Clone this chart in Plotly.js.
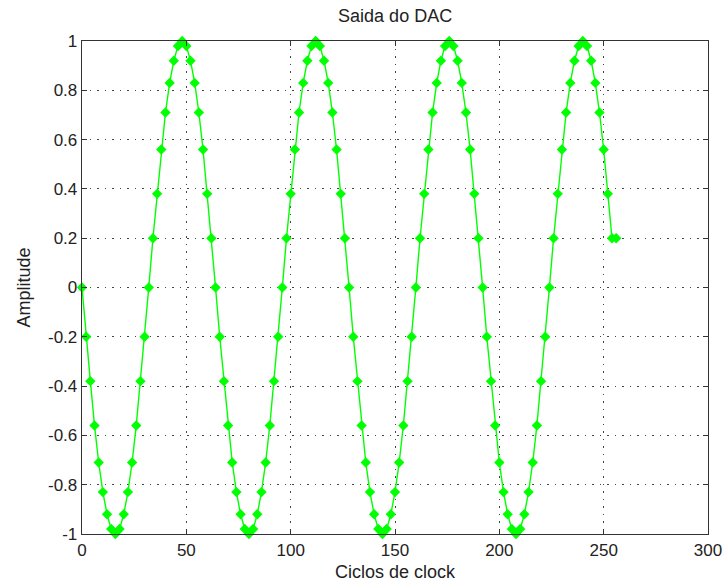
<!DOCTYPE html>
<html>
<head>
<meta charset="utf-8">
<script src="https://cdn.plot.ly/plotly-3.0.1.min.js"></script>
<style>html,body{margin:0;padding:0;background:#fff;}#chart{width:725px;height:585px;}</style>
</head>
<body>
<div id="chart"></div>
<script>
// Clock cycles (x) and DAC output amplitude (y)
var clockCycles = [
  0, 2, 4, 6, 8, 10, 12, 14, 16, 18, 20, 22, 24, 26, 28, 30,
  32, 34, 36, 38, 40, 42, 44, 46, 48, 50, 52, 54, 56, 58, 60, 62,
  64, 66, 68, 70, 72, 74, 76, 78, 80, 82, 84, 86, 88, 90, 92, 94,
  96, 98, 100, 102, 104, 106, 108, 110, 112, 114, 116, 118, 120, 122, 124, 126,
  128, 130, 132, 134, 136, 138, 140, 142, 144, 146, 148, 150, 152, 154, 156, 158,
  160, 162, 164, 166, 168, 170, 172, 174, 176, 178, 180, 182, 184, 186, 188, 190,
  192, 194, 196, 198, 200, 202, 204, 206, 208, 210, 212, 214, 216, 218, 220, 222,
  224, 226, 228, 230, 232, 234, 236, 238, 240, 242, 244, 246, 248, 250, 252, 254,
  256
];
var amplitude = [
  0, -0.2, -0.38, -0.56, -0.71, -0.83, -0.92, -0.98, -1, -0.98, -0.92, -0.83, -0.71, -0.56, -0.38, -0.2,
  0, 0.2, 0.38, 0.56, 0.71, 0.83, 0.92, 0.98, 1, 0.98, 0.92, 0.83, 0.71, 0.56, 0.38, 0.2,
  0, -0.2, -0.38, -0.56, -0.71, -0.83, -0.92, -0.98, -1, -0.98, -0.92, -0.83, -0.71, -0.56, -0.38, -0.2,
  0, 0.2, 0.38, 0.56, 0.71, 0.83, 0.92, 0.98, 1, 0.98, 0.92, 0.83, 0.71, 0.56, 0.38, 0.2,
  0, -0.2, -0.38, -0.56, -0.71, -0.83, -0.92, -0.98, -1, -0.98, -0.92, -0.83, -0.71, -0.56, -0.38, -0.2,
  0, 0.2, 0.38, 0.56, 0.71, 0.83, 0.92, 0.98, 1, 0.98, 0.92, 0.83, 0.71, 0.56, 0.38, 0.2,
  0, -0.2, -0.38, -0.56, -0.71, -0.83, -0.92, -0.98, -1, -0.98, -0.92, -0.83, -0.71, -0.56, -0.38, -0.2,
  0, 0.2, 0.38, 0.56, 0.71, 0.83, 0.92, 0.98, 1, 0.98, 0.92, 0.83, 0.71, 0.56, 0.38, 0.2,
  0.2
];
var xTicks = [0, 50, 100, 150, 200, 250, 300];
var yTicks = [-1, -0.8, -0.6, -0.4, -0.2, 0, 0.2, 0.4, 0.6, 0.8, 1];
var yTickText = ['-1', '-0.8', '-0.6', '-0.4', '-0.2', '0', '0.2', '0.4', '0.6', '0.8', '1'];

var font = 'Liberation Sans, Arial, sans-serif';
var trace = {
  x: clockCycles,
  y: amplitude,
  type: 'scatter',
  mode: 'lines+markers',
  line: {color: '#00ff00', width: 1.4},
  marker: {symbol: 'diamond', size: 8, color: '#00ff00', line: {width: 0}},
  cliponaxis: false,
  hoverinfo: 'x+y'
};
var axisCommon = {
  showline: true, linecolor: '#333333', linewidth: 1.3, mirror: 'ticks',
  ticks: 'inside', ticklen: 5, tickcolor: '#333333', tickwidth: 1,
  showgrid: true, gridcolor: '#444444', gridwidth: 1, griddash: '1.5px,6px',
  zeroline: false,
  tickfont: {family: font, size: 17, color: '#222222'}
};
var layout = {
  width: 725, height: 585,
  margin: {l: 82, r: 17, t: 41, b: 51},
  paper_bgcolor: '#ffffff', plot_bgcolor: '#ffffff',
  showlegend: false,
  title: {text: 'Saida do DAC', font: {family: font, size: 18, color: '#222222'},
          x: 0.545, xanchor: 'center', y: 0.973, yanchor: 'middle'},
  xaxis: Object.assign({}, axisCommon, {
    range: [0, 300], tickvals: xTicks, ticktext: xTicks.map(String),
    title: {text: 'Ciclos de clock', font: {family: font, size: 18, color: '#222222'}, standoff: 6}
  }),
  yaxis: Object.assign({}, axisCommon, {
    range: [-1, 1], tickvals: yTicks, ticktext: yTickText,
    title: {text: 'Amplitude', font: {family: font, size: 18, color: '#222222'}, standoff: 12}
  })
};
Plotly.newPlot('chart', [trace], layout, {displayModeBar: false, staticPlot: true});
</script>
</body>
</html>
